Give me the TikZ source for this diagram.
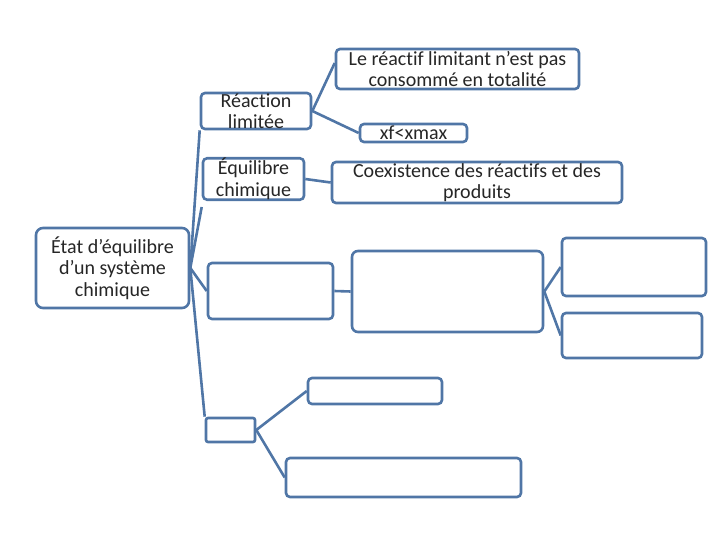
\documentclass[tikz,border=0pt]{standalone}
\usepackage{fontspec}
\setmainfont{Carlito}[Ligatures=NoCommon]
\begin{document}
\begin{tikzpicture}[x=1pt,y=-1pt,
  bx/.style={draw=edgeblue, line width=2.6pt, rounded corners=4pt, fill=white, inner sep=0pt, align=center, text=black!85, font=\fontsize{20}{21.5}\selectfont},
  link/.style={draw=edgeblue, line width=2.6pt}]
\definecolor{edgeblue}{RGB}{80,118,166}
\useasboundingbox (0,0) rectangle (720,540);
% boxes
\node[bx, rounded corners=7pt, minimum width=153pt, minimum height=80pt] (root) at (112.5,268) {État d’équilibre\\d’un système\\chimique};
\node[bx, minimum width=110pt, minimum height=36pt] (rl) at (256,111) {Réaction\\limitée};
\node[bx, minimum width=101pt, minimum height=34pt] (eq) at (253.5,179) {Équilibre\\chimique};
\node[bx, minimum width=243pt, minimum height=40pt] (lr) at (457.5,69) {Le réactif limitant n’est pas\\consommé en totalité};
\node[bx, minimum width=107pt, minimum height=18pt] (xf) at (413.5,133) {xf<xmax};
\node[bx, minimum width=290pt, minimum height=41pt] (co) at (477,182.5) {Coexistence des réactifs et des\\produits};
\node[bx, minimum width=125pt, minimum height=56pt] (e1) at (270.5,291) {};
\node[bx, rounded corners=6pt, minimum width=191pt, minimum height=81pt] (big) at (447.5,291.5) {};
\node[bx, minimum width=144pt, minimum height=58pt] (rt) at (634,267) {};
\node[bx, minimum width=140pt, minimum height=45pt] (rb) at (632,335.5) {};
\node[bx, minimum width=49pt, minimum height=24pt, rounded corners=2pt] (sm) at (230.5,430) {};
\node[bx, minimum width=134pt, minimum height=26pt] (mb) at (375,391) {};
\node[bx, minimum width=235pt, minimum height=39pt] (bb) at (403.5,477.5) {};
% connectors
\coordinate (hub) at (root.east);
\draw[link] (hub) -- (rl.south west);
\draw[link] (hub) -- ([yshift=-6pt]eq.south west);
\draw[link] (hub) -- (e1.west);
\draw[link] (hub) -- (sm.north west);
\draw[link] (rl.east) -- ([yshift=6pt]lr.west);
\draw[link] (rl.east) -- (xf.west);
\draw[link] (eq.east) -- (co.west);
\draw[link] (e1.east) -- (big.west);
\draw[link] (big.east) -- (rt.west);
\draw[link] (big.east) -- (rb.west);
\draw[link] (sm.east) -- (mb.west);
\draw[link] (sm.east) -- (bb.west);
\end{tikzpicture}
\end{document}
